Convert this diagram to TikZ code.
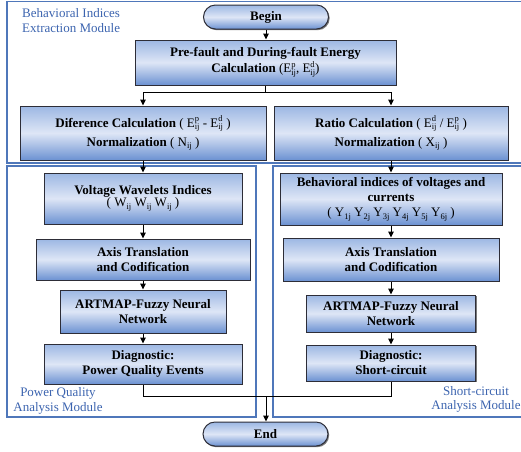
\documentclass[tikz,border=0pt]{standalone}
\usepackage{fontspec}
\setmainfont{Liberation Serif}
\usetikzlibrary{shadows,arrows.meta}
\definecolor{frameblue}{RGB}{79,119,186}
\definecolor{labblue}{RGB}{60,100,175}
\definecolor{gtop}{RGB}{156,183,227}
\definecolor{gmid}{RGB}{222,230,246}
\definecolor{gbot}{RGB}{108,146,210}
\definecolor{bord}{RGB}{45,45,55}
\newcommand\smallidx[1]{{\fontsize{8.5}{9}\selectfont\mdseries #1}}
\newcommand\subx[2]{#1\raisebox{-0.45ex}{\smallidx{#2}}}
\newcommand\supsub[3]{#1\rlap{\raisebox{0.95ex}{\smallidx{#2}}}\raisebox{-0.45ex}{\smallidx{#3}}}
\begin{document}
\begin{tikzpicture}[x=1pt,y=-1pt,
  box/.style={draw=bord, line width=1pt, top color=gtop, bottom color=gbot, middle color=gmid,
    drop shadow={shadow xshift=1.2pt,shadow yshift=-1.2pt,fill=black!65,opacity=0.8},
    align=center, inner sep=0pt, font=\fontsize{13}{15}\selectfont\bfseries},
  pill/.style={box, rounded corners=12pt, minimum width=125pt, minimum height=24pt},
  frame/.style={draw=frameblue, line width=1.2pt},
  lab/.style={text=labblue, inner sep=0pt, font=\fontsize{13}{14.5}\selectfont},
  arr/.style={draw=black, line width=1pt, -{Triangle[length=6pt,width=5.5pt]}},
  con/.style={draw=black, line width=1pt}]
\useasboundingbox (0,0) rectangle (521,451);
\clip (0,0) rectangle (521,451);
% module frames
\draw[frame] (7,1.5) rectangle (530,163);
\draw[frame] (7,166) rectangle (256,417);
\draw[frame] (273,166) rectangle (530,417);
% module labels
\node[lab, anchor=west, align=left] (labA) at (22,20.5) {Behavioral Indices\\Extraction Module};
\node[lab, align=center] (labB) at (58,401) {Power Quality\\Analysis Module};
\node[lab, align=center] (labC) at (476,399.5) {Short-circuit\\Analysis Module};
% boxes
\node[pill] (begin) at (266,17) {Begin};
\node[box, minimum width=261pt, minimum height=45pt] (pre) at (265.5,62.5)
  {Pre-fault and During-fault Energy\\[1pt]Calculation {\mdseries (\supsub{E}{p}{ij}, \supsub{E}{d}{ij})}};
\node[box, minimum width=246pt, minimum height=54pt] (dif) at (143,133)
  {Diference Calculation {\mdseries ( \supsub{E}{p}{ij} - \supsub{E}{d}{ij} )}\\[4pt]Normalization {\mdseries ( \subx{N}{ij} )}};
\node[box, minimum width=234pt, minimum height=54pt] (rat) at (391,133)
  {Ratio Calculation {\mdseries ( \supsub{E}{d}{ij} / \supsub{E}{p}{ij} )}\\[4pt]Normalization {\mdseries ( \subx{X}{ij} )}};
\node[box, minimum width=198pt, minimum height=51pt] (volt) at (143,198.5)
  {Voltage Wavelets Indices\\[-3pt]{\mdseries ( \subx{W}{ij} \subx{W}{ij} \subx{W}{ij} )}};
\node[box, minimum width=222pt, minimum height=52pt] (beh) at (391,199)
  {Behavioral indices of voltages and\\currents\\{\mdseries ( \subx{Y}{1j} \subx{Y}{2j} \subx{Y}{3j} \subx{Y}{4j} \subx{Y}{5j} \subx{Y}{6j} )}};
\node[box, minimum width=214pt, minimum height=41pt] (axL) at (143,259.5) {Axis Translation\\and Codification};
\node[box, minimum width=216pt, minimum height=43pt] (axR) at (391,259.5) {Axis Translation\\and Codification};
\node[box, minimum width=166pt, minimum height=43pt] (artL) at (143,311.5) {ARTMAP-Fuzzy Neural\\Network};
\node[box, minimum width=169pt, minimum height=37pt] (artR) at (391,313.5) {ARTMAP-Fuzzy Neural\\Network};
\node[box, minimum width=198pt, minimum height=40pt] (dgL) at (143,364) {Diagnostic:\\Power Quality Events};
\node[box, minimum width=169pt, minimum height=36pt] (dgR) at (391,363) {Diagnostic:\\Short-circuit};
\node[pill] (end) at (265.5,434) {End};
% connectors
\draw[arr] (begin.south) -- (begin.south |- pre.north);
\coordinate (split) at (265.5,92);
\draw[con] (pre.south) -- (split);
\draw[arr] (split) -| (dif.north);
\draw[arr] (split) -| (rat.north);
\draw[arr] (dif.south) -- (dif.south |- volt.north);
\draw[arr] (volt.south) -- (volt.south |- axL.north);
\draw[arr] (axL.south) -- (axL.south |- artL.north);
\draw[arr] (artL.south) -- (artL.south |- dgL.north);
\draw[arr] (rat.south) -- (rat.south |- beh.north);
\draw[arr] (beh.south) -- (beh.south |- axR.north);
\draw[arr] (axR.south) -- (axR.south |- artR.north);
\draw[arr] (artR.south) -- (artR.south |- dgR.north);
\coordinate (merge) at (266,396);
\draw[con] (dgL.south) |- (merge);
\draw[con] (dgR.south) |- (merge);
\draw[arr] (merge) -- (merge |- end.north);
\end{tikzpicture}
\end{document}
